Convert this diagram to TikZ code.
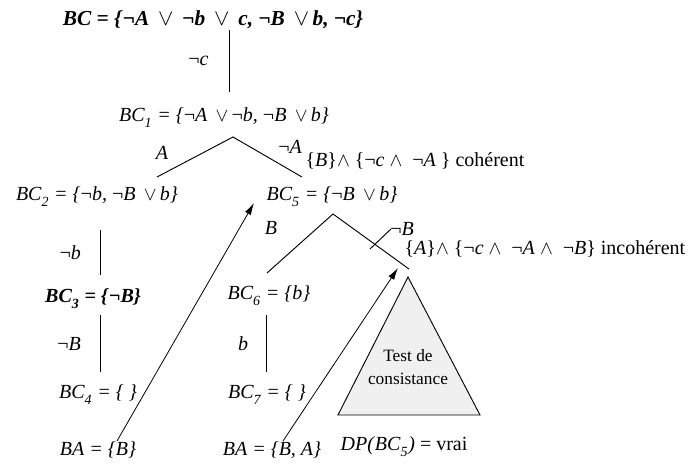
\documentclass[tikz,border=0pt]{standalone}
\usepackage{fontspec}
\setmainfont{Liberation Serif}
\usepackage{tikz}
\usetikzlibrary{arrows.meta,positioning}
\newcommand{\nt}{\textup{¬}}
\newcommand{\ou}{\,$\vee$\,}
\newcommand{\et}{\,$\wedge$\,}
\newcommand{\bcsub}[1]{\textit{BC}\raisebox{-0.35ex}{\textsubscript{\textit{#1}}}}

\begin{document}
\begin{tikzpicture}[x=0.75pt, y=-0.75pt,
        every node/.style={font=\fontsize{15}{17}\selectfont, inner sep=1pt},
        setbox/.style={font=\fontsize{15}{17}\selectfont\itshape},
        lbl/.style={font=\fontsize{15}{17}\selectfont\itshape},
        branch/.style={line width=0.7pt},
        arr/.style={-{Latex[length=9pt,width=5pt]}, line width=0.6pt},
        testtri/.style={draw, line width=0.7pt, fill=gray!12}
      ]
        \useasboundingbox (0,0) rectangle (694,467);

        % knowledge bases
        \node[setbox, font=\fontsize{16}{18}\selectfont\bfseries\itshape] (bc) at (213,20)
          {BC = \{\nt A \ou\ \nt b \ou\ c, \nt B \ou b, \nt c\}};
        \node[setbox] (bc1) at (224,118) {\bcsub{1} = \{\nt A \ou\nt b, \nt B \ou b\}};
        \node[setbox] (bc2) at (97,197)  {\bcsub{2} = \{\nt b, \nt B \ou b\}};
        \node[setbox] (bc5) at (332,197) {\bcsub{5} = \{\nt B \ou b\}};
        \node[setbox, font=\fontsize{15}{17}\selectfont\bfseries\itshape] (bc3) at (93,299)
          {\bcsub{3} = \{\nt B\}};
        \node[setbox] (bc4) at (98,395)  {\bcsub{4} = \{ \}};
        \node[setbox] (bc6) at (269,296) {\bcsub{6} = \{b\}};
        \node[setbox] (bc7) at (267,395) {\bcsub{7} = \{ \}};
        \node[setbox] (ba1) at (98,450)  {BA = \{B\}};
        \node[setbox] (ba2) at (272,450) {BA = \{B, A\}};

        % comments
        \node[anchor=west] (coh) at (304,161)
          {\{\textit{B}\}$\wedge$ \{\nt\textit{c} $\wedge$ \ \nt\textit{A} \} cohérent};
        \node[anchor=west] (inc) at (403,249)
          {\{\textit{A}\}$\wedge$ \{\nt\textit{c} $\wedge$ \ \nt\textit{A} $\wedge$ \ \nt\textit{B}\} incohérent};
        \node (dp) at (404,447) {\textit{DP(}\bcsub{5}\textit{)} = vrai};

        % branch points
        \coordinate (c0) at (229,30);   \coordinate (c1) at (229,92);
        \coordinate (j1) at (233,137);  \coordinate (j1l) at (157,177);  \coordinate (j1r) at (302,177);
        \coordinate (l1) at (100,230);  \coordinate (l2) at (100,275);
        \coordinate (l3) at (100,315);  \coordinate (l4) at (100,372);
        \coordinate (j5) at (333,214);  \coordinate (j5l) at (267,273);  \coordinate (j5r) at (409,269);
        \coordinate (m1) at (266,315);  \coordinate (m2) at (266,372);
        \coordinate (k1) at (370,249);  \coordinate (k2) at (391,229);

        \draw[branch] (c0) -- (c1) node[lbl, midway, left=14pt] {\nt c};
        \draw[branch] (j1l) -- (j1) -- (j1r);
        \node[lbl] (la) at (162,153) {A};
        \node[lbl] (lna) at (290,147) {\nt A};
        \draw[branch] (l1) -- (l2) node[lbl, midway, left=13pt] {\nt b};
        \draw[branch] (l3) -- (l4) node[lbl, midway, left=13pt] {\nt B};
        \draw[branch] (j5l) -- (j5) -- (j5r);
        \node[lbl] (lb) at (271,228) {B};
        \node[lbl] (lnb) at (402,229) {\nt B};
        \draw[branch] (k1) -- (k2);
        \draw[branch] (m1) -- (m2) node[lbl, midway, left=12pt] {b};

        % consistency test
        \coordinate (t1) at (408,277); \coordinate (t2) at (338,415); \coordinate (t3) at (480,415);
        \draw[testtri] (t1) -- (t2) -- (t3) -- cycle;
        \node[align=center, font=\fontsize{13}{17}\selectfont] (test) at (408,367) {Test de\\consistance};

        \coordinate (a1) at (117,441);  \coordinate (a2) at (254,203);
        \coordinate (b1) at (283,441);  \coordinate (b2) at (398,268);
        \draw[arr] (a1) -- (a2);
        \draw[arr] (b1) -- (b2);
      \end{tikzpicture}
\end{document}
